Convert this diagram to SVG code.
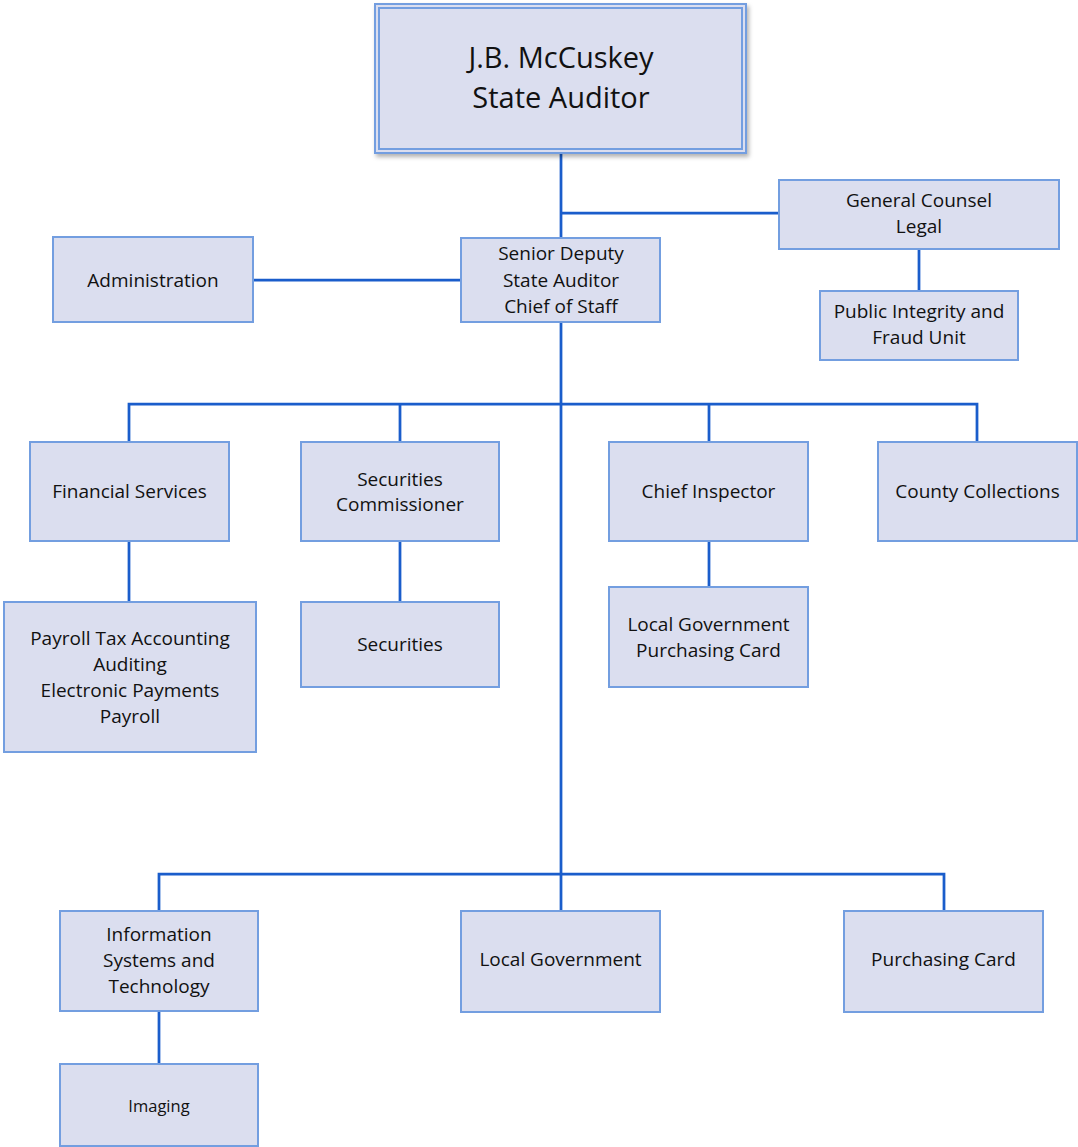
<svg xmlns="http://www.w3.org/2000/svg" width="1078" height="1147" viewBox="0 0 1078 1147">
  <defs>
    <filter id="shadow" x="-5%" y="-5%" width="115%" height="120%">
      <feDropShadow dx="2" dy="3" stdDeviation="2" flood-color="#000" flood-opacity="0.3"/>
    </filter>
    <style>
      .box { fill: #dbdeef; stroke: #739ee0; stroke-width: 2; }
      .frame { fill: none; stroke: #739ee0; stroke-width: 2; }
      .lbl { font-family: "Open Sans", "Liberation Sans", sans-serif; font-size: 19px; fill: #111111; text-anchor: middle; }
      .title { font-size: 29px; }
      .small { font-size: 16.5px; }
      .link { fill: none; stroke: #1a5dcb; stroke-width: 2.75; }
    </style>
  </defs>
  <rect width="1078" height="1147" fill="#ffffff"/>

  <!-- connectors -->
  <g id="connectors">
    <path class="link" d="M561 153 V238"/>
    <path class="link" d="M561 213 H779"/>
    <path class="link" d="M919 249 V291"/>
    <path class="link" d="M253 280 H461"/>
    <path class="link" d="M561 322 V911"/>
    <path class="link" d="M129 442 V404 H977 V442"/>
    <path class="link" d="M400 404 V442"/>
    <path class="link" d="M709 404 V442"/>
    <path class="link" d="M129 541 V602"/>
    <path class="link" d="M400 541 V602"/>
    <path class="link" d="M709 541 V587"/>
    <path class="link" d="M159 911 V874 H944 V911"/>
    <path class="link" d="M159 1011 V1064"/>
  </g>

  <!-- nodes -->
  <g id="state-auditor">
    <rect class="box" x="375" y="4" width="371" height="149" filter="url(#shadow)"/>
    <rect class="frame" x="379" y="8" width="363" height="141"/>
    <text class="lbl title" x="561" y="68">J.B. McCuskey</text>
    <text class="lbl title" x="561" y="108">State Auditor</text>
  </g>

  <g id="general-counsel">
    <rect class="box" x="779" y="180" width="280" height="69"/>
    <text class="lbl" x="919" y="207">General Counsel</text>
    <text class="lbl" x="919" y="233">Legal</text>
  </g>

  <g id="public-integrity">
    <rect class="box" x="820" y="291" width="198" height="69"/>
    <text class="lbl" x="919" y="318">Public Integrity and</text>
    <text class="lbl" x="919" y="344">Fraud Unit</text>
  </g>

  <g id="administration">
    <rect class="box" x="53" y="237" width="200" height="85"/>
    <text class="lbl" x="153" y="287">Administration</text>
  </g>

  <g id="senior-deputy">
    <rect class="box" x="461" y="238" width="199" height="84"/>
    <text class="lbl" x="561" y="260">Senior Deputy</text>
    <text class="lbl" x="561" y="287">State Auditor</text>
    <text class="lbl" x="561" y="313">Chief of Staff</text>
  </g>

  <g id="financial-services">
    <rect class="box" x="30" y="442" width="199" height="99"/>
    <text class="lbl" x="129.5" y="498">Financial Services</text>
  </g>

  <g id="payroll">
    <rect class="box" x="4" y="602" width="252" height="150"/>
    <text class="lbl" x="130" y="645">Payroll Tax Accounting</text>
    <text class="lbl" x="130" y="671">Auditing</text>
    <text class="lbl" x="130" y="697">Electronic Payments</text>
    <text class="lbl" x="130" y="723">Payroll</text>
  </g>

  <g id="securities-commissioner">
    <rect class="box" x="301" y="442" width="198" height="99"/>
    <text class="lbl" x="400" y="486">Securities</text>
    <text class="lbl" x="400" y="511">Commissioner</text>
  </g>

  <g id="securities">
    <rect class="box" x="301" y="602" width="198" height="85"/>
    <text class="lbl" x="400" y="651">Securities</text>
  </g>

  <g id="chief-inspector">
    <rect class="box" x="609" y="442" width="199" height="99"/>
    <text class="lbl" x="708.5" y="498">Chief Inspector</text>
  </g>

  <g id="local-government-purchasing-card">
    <rect class="box" x="609" y="587" width="199" height="100"/>
    <text class="lbl" x="708.5" y="631">Local Government</text>
    <text class="lbl" x="708.5" y="657">Purchasing Card</text>
  </g>

  <g id="county-collections">
    <rect class="box" x="878" y="442" width="199" height="99"/>
    <text class="lbl" x="977.5" y="498">County Collections</text>
  </g>

  <g id="information-systems">
    <rect class="box" x="60" y="911" width="198" height="100"/>
    <text class="lbl" x="159" y="941">Information</text>
    <text class="lbl" x="159" y="967">Systems and</text>
    <text class="lbl" x="159" y="993">Technology</text>
  </g>

  <g id="imaging">
    <rect class="box" x="60" y="1064" width="198" height="82"/>
    <text class="lbl small" x="159" y="1112">Imaging</text>
  </g>

  <g id="local-government">
    <rect class="box" x="461" y="911" width="199" height="101"/>
    <text class="lbl" x="560.5" y="966">Local Government</text>
  </g>

  <g id="purchasing-card">
    <rect class="box" x="844" y="911" width="199" height="101"/>
    <text class="lbl" x="943.5" y="966">Purchasing Card</text>
  </g>
</svg>
